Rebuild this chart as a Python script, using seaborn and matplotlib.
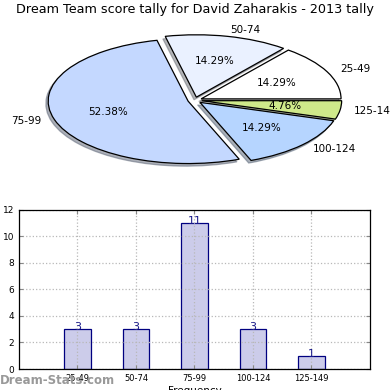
import matplotlib
matplotlib.use("Agg")
import matplotlib.pyplot as plt
import seaborn as sns
import pandas as pd

# data
ranges = ["25-49", "50-74", "75-99", "100-124", "125-149"]
counts = [3, 3, 11, 3, 1]
pie_colors = ["#ffffff", "#eaf1ff", "#c4d8ff", "#b6d5ff", "#cfe98a"]
title = "Dream Team score tally for David Zaharakis - 2013 tally"

sns.set_style("ticks")
plt.rcParams["font.family"] = ["DejaVu Sans"]
plt.rcParams["text.color"] = "black"
plt.rcParams["axes.labelcolor"] = "black"
plt.rcParams["xtick.color"] = "black"
plt.rcParams["ytick.color"] = "black"

fig = plt.figure(figsize=(3.9, 3.9), dpi=100)

# --- pie (upper half), stretched into an ellipse like the original ---
ax_pie = fig.add_axes([0.051, 0.543, 0.897, 0.40])
wedges, texts, autotexts = ax_pie.pie(
    counts, labels=ranges, colors=pie_colors, startangle=0,
    explode=[0.05] * len(counts),
    shadow=dict(ox=-0.012, oy=-0.03, shade=0.55), autopct="%.2f%%",
    pctdistance=0.6, labeldistance=1.1,
    wedgeprops=dict(edgecolor="black", linewidth=0.9),
    textprops=dict(fontsize=7.5),
)
ax_pie.set_aspect("auto")
ax_pie.set_xlim(-1.25, 1.25)
ax_pie.set_ylim(-1.25, 1.25)
fig.text(0.5, 1 - 10 / 390, title, ha="center", va="center", fontsize=9.2)

# --- bar chart (lower half) ---
ax_bar = fig.add_axes([0.0487, 0.0538, 0.9, 0.408])
df = pd.DataFrame({"range": ranges, "count": counts})
sns.barplot(data=df, x="range", y="count", ax=ax_bar, color="#ccccea",
            edgecolor="#000080", linewidth=0.9, width=0.45, saturation=1)
ax_bar.set_xlim(-1, len(ranges))
ax_bar.set_ylim(0, 12)
ax_bar.set_yticks(range(0, 13, 2))
ax_bar.grid(True, linestyle=":", color="#b8b8b8", linewidth=0.9)
ax_bar.set_axisbelow(False)
for side in ax_bar.spines.values():
    side.set_visible(True)
    side.set_color("black")
    side.set_linewidth(0.9)
    side.set_zorder(3)
ax_bar.tick_params(direction="in", length=3, labelsize=6, top=True, right=True,
                   color="#888888")
ax_bar.tick_params(axis="y", labelsize=6.5)
for c in ax_bar.containers:
    ax_bar.bar_label(c, labels=[str(v) for v in counts], fontsize=8,
                     color="#1a1a8a", padding=-2)
ax_bar.set_xlabel("Frequency", fontsize=7.5)
ax_bar.xaxis.set_label_coords(0.5, -0.105)
ax_bar.set_ylabel("Dual Meet Tally", fontsize=7.5)
ax_bar.yaxis.set_label_coords(-0.065, 0.5)

fig.text(0.0, 1 - 380 / 390, "Dream-Stats.com", ha="left", va="center",
         fontsize=8.5, color="#999999", fontweight="bold")

fig.savefig("out.png", dpi=100)
